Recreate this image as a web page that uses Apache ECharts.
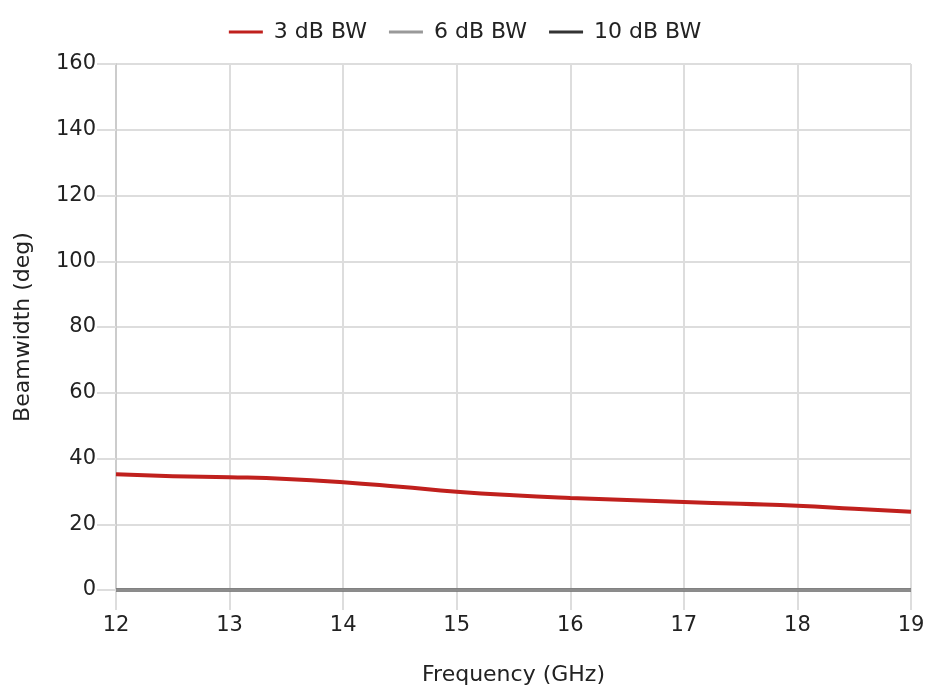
<!DOCTYPE html>
<html><head><meta charset="utf-8">
<script src="https://cdn.jsdelivr.net/npm/echarts@6/dist/echarts.min.js"></script>
<style>html,body{margin:0;padding:0;background:#fff}#c{width:930px;height:696px}</style>
</head><body><div id="c"></div>
<script>
const freq = [12, 12.5, 13, 13.5, 14, 14.5, 15, 15.5, 16, 16.5, 17, 17.5, 18, 18.5, 19];
const bw3 = [35.2, 34.6, 34.3, 33.8, 32.8, 31.4, 29.9, 28.8, 28.0, 27.4, 26.8, 26.2, 25.6, 24.7, 23.8];
const bw6 = [0, 0, 0, 0, 0, 0, 0, 0, 0, 0, 0, 0, 0, 0, 0];
const bw10 = [0, 0, 0, 0, 0, 0, 0, 0, 0, 0, 0, 0, 0, 0, 0];
const seriesNames = ['3 dB BW', '6 dB BW', '10 dB BW'];
const FONT = 'DejaVu Sans';
const pair = (ys) => freq.map((f, i) => [f, ys[i]]);
const chart = echarts.init(document.getElementById('c'));
chart.setOption({
  animation: false,
  textStyle: {fontFamily: FONT},
  legend: {
    top: 16, left: 'center', itemWidth: 34, itemHeight: 3, itemGap: 22,
    icon: 'rect',
    textStyle: {fontSize: 22, color: '#222', fontFamily: FONT, padding: [0, 0, 0, 6]},
    data: seriesNames
  },
  grid: {left: 116, right: 19, top: 64, bottom: 106, containLabel: false, outerBoundsMode: 'none'},
  xAxis: {
    type: 'value', min: 12, max: 19, interval: 1,
    name: 'Frequency (GHz)', nameLocation: 'middle', nameGap: 74,
    nameTextStyle: {fontSize: 22, color: '#222'},
    axisLine: {show: false},
    axisTick: {show: true, length: 20, lineStyle: {color: '#ddd', width: 2}},
    axisLabel: {fontSize: 21, color: '#222', margin: 25},
    splitLine: {lineStyle: {color: '#ddd', width: 2}}
  },
  yAxis: {
    type: 'value', min: 0, max: 160, interval: 20,
    name: 'Beamwidth (deg)', nameLocation: 'middle', nameGap: 82,
    nameTextStyle: {fontSize: 22, color: '#222'},
    axisLine: {show: true, lineStyle: {color: '#ccc', width: 2}},
    axisTick: {show: true, length: 19, lineStyle: {color: '#ddd', width: 2}},
    axisLabel: {fontSize: 21, color: '#222', margin: 20},
    splitLine: {lineStyle: {color: '#ddd', width: 2}}
  },
  series: [
    {name: seriesNames[0], type: 'line', data: pair(bw3), smooth: true, showSymbol: false,
     lineStyle: {color: '#c0201d', width: 4}, itemStyle: {color: '#c0201d'}, z: 4},
    {name: seriesNames[1], type: 'line', data: pair(bw6), showSymbol: false,
     lineStyle: {color: '#8c8c8c', width: 3.5}, itemStyle: {color: '#999999'}, z: 3},
    {name: seriesNames[2], type: 'line', data: pair(bw10), showSymbol: false,
     lineStyle: {color: '#333333', width: 3.5}, itemStyle: {color: '#333333'}, z: 2}
  ]
});
</script></body></html>
